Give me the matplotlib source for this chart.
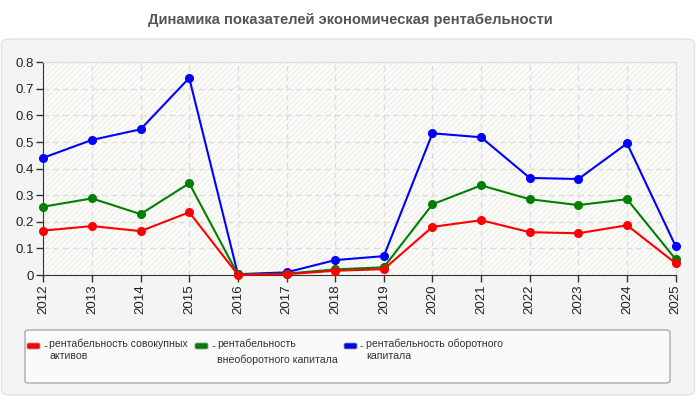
import matplotlib
matplotlib.use("Agg")
import matplotlib.pyplot as plt
from matplotlib.patches import FancyBboxPatch, Rectangle

years = [2012, 2013, 2014, 2015, 2016, 2017, 2018, 2019, 2020, 2021, 2022, 2023, 2024, 2025]
total_assets = [0.167, 0.184, 0.165, 0.236, 0.001, 0.003, 0.016, 0.022, 0.181, 0.206, 0.161, 0.157, 0.187, 0.044]
noncurrent = [0.257, 0.288, 0.229, 0.345, 0.002, 0.005, 0.021, 0.029, 0.266, 0.337, 0.285, 0.263, 0.285, 0.059]
working = [0.441, 0.508, 0.548, 0.741, 0.003, 0.010, 0.056, 0.071, 0.533, 0.518, 0.365, 0.361, 0.495, 0.108]

names = ["рентабельность совокупных\nактивов",
         "рентабельность\nвнеоборотного капитала",
         "рентабельность оборотного\nкапитала"]
colors = ["#ff0000", "#008000", "#0000ff"]
yticks = [0, 0.1, 0.2, 0.3, 0.4, 0.5, 0.6, 0.7, 0.8]
ytick_labels = ["0", "0.1", "0.2", "0.3", "0.4", "0.5", "0.6", "0.7", "0.8"]
title = "Динамика показателей экономическая рентабельности"

plt.rcParams['font.family'] = ['Liberation Sans', 'DejaVu Sans']

fig = plt.figure(figsize=(7, 4), dpi=100)
fig.patch.set_facecolor("white")

# outer panel
panel = FancyBboxPatch((1.5/700, 5/400), 693/700, 356/400,
                       boxstyle="round,pad=0,rounding_size=0.012",
                       transform=fig.transFigure, facecolor="#f4f4f4",
                       edgecolor="#e2e2e2", linewidth=1, zorder=-10)
fig.patches.append(panel)

fig.text(0.5, 1 - 20/400, title, ha="center", va="center",
         fontsize=10.6, fontweight="bold", color="#555555")

ax = fig.add_axes([43.3/700, 1 - 275/400, 632.4/700, 212.7/400])
ax.set_zorder(5)
ax.set_facecolor("#fdfdf8")
bg = Rectangle((0, 0), 1, 1, transform=ax.transAxes, facecolor="none",
               edgecolor="#efefef", hatch="//////", linewidth=0, zorder=0)
ax.add_patch(bg)

series = [working, noncurrent, total_assets]
scol = [colors[2], colors[1], colors[0]]
for vals, c in zip(series, scol):
    ax.plot(years, vals, color=c, linewidth=1.5, marker="o", markersize=5.5,
            zorder=3, clip_on=False)

ax.set_xlim(years[0], years[-1])
ax.set_ylim(0, 0.8)
ax.set_xticks(years)
ax.set_xticklabels([str(y) for y in years], rotation=90, fontsize=9.5, color="#222222")
ax.set_yticks(yticks)
ax.set_yticklabels(ytick_labels, fontsize=9.5, color="#222222")
ax.grid(True, color="#dddddd", linestyle=(0, (4, 3)), linewidth=1)
ax.set_axisbelow(True)
for s in ["top", "right"]:
    ax.spines[s].set_color("#dddddd")
for s in ["left", "bottom"]:
    ax.spines[s].set_color("#333333")
ax.tick_params(axis="both", direction="out", length=5, width=1, color="#333333", pad=2)

# legend box
leg = FancyBboxPatch((25/700, 1 - 383/400), 645/700, 53/400,
                     boxstyle="round,pad=0,rounding_size=0.006",
                     transform=fig.transFigure, facecolor="#fafafa",
                     edgecolor="#aaaaaa", linewidth=1, zorder=1)
fig.patches.append(leg)

xs = [27, 195, 344]
spacings = [1.15, 1.6, 1.15]
for x0, name, c, lsp in zip(xs, names, colors, spacings):
    sw = FancyBboxPatch(((x0) / 700, 1 - 349/400), 13/700, 6/400,
                        boxstyle="round,pad=0,rounding_size=0.003",
                        transform=fig.transFigure, facecolor=c,
                        edgecolor="#999999", linewidth=0.6, zorder=2)
    fig.patches.append(sw)
    fig.text((x0 + 16) / 700, 1 - 346/400, "-", ha="left", va="center",
             fontsize=8, color="#333333", zorder=3)
    fig.text((x0 + 22) / 700, 1 - 339/400, name, ha="left", va="top",
             fontsize=7.6, color="#333333", linespacing=lsp, zorder=3,
             family=['Liberation Sans', 'DejaVu Sans'])

fig.savefig("out.png", dpi=100, facecolor=fig.get_facecolor())
